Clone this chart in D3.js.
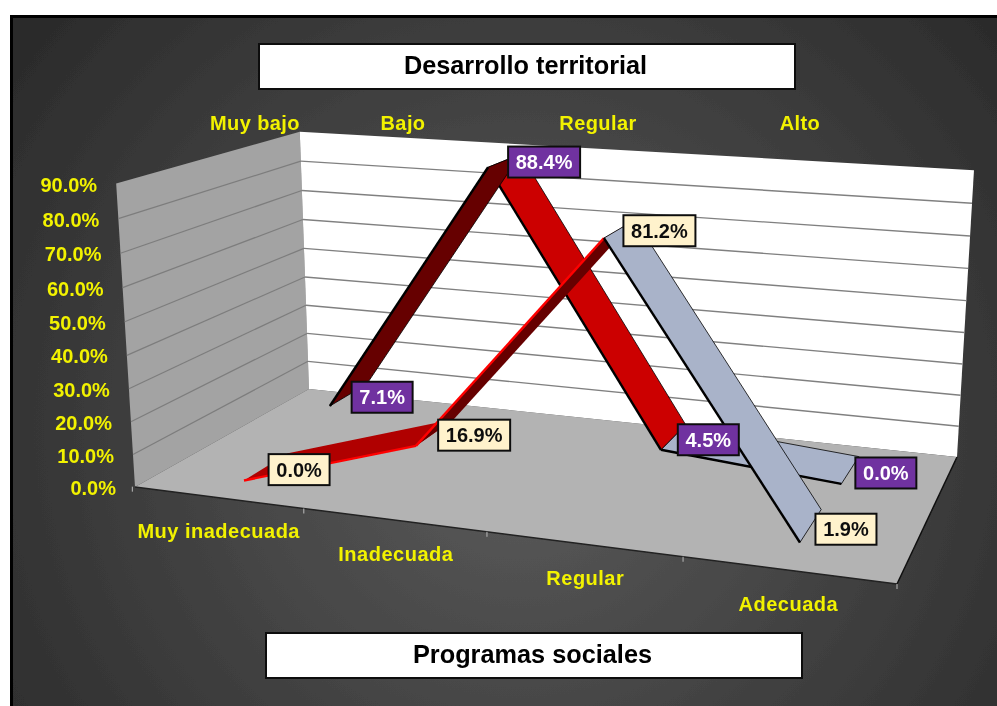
<!DOCTYPE html>
<html><head><meta charset="utf-8">
<script src="https://cdn.jsdelivr.net/npm/d3@7"></script>
<style>html,body{margin:0;padding:0;background:#fff}svg{display:block}text{font-family:"Liberation Sans",Arial,sans-serif;font-weight:bold}</style>
</head><body><div id="chart"></div>
<script>
// ---- data ----
const categories = ["Muy inadecuada","Inadecuada","Regular","Adecuada"];
const seriesNames = ["front","back"];
const frontValues = [0.0,16.9,81.2,1.9];
const backValues = [7.1,88.4,4.5,0.0];
const yTicks = [0,10,20,30,40,50,60,70,80,90];
const topLabels = ["Muy bajo","Bajo","Regular","Alto"];
const titleText = "Desarrollo territorial";
const xTitleText = "Programas sociales";
// ---- styles per ribbon segment ----
const backFills = ["#660000","#cc0000","#a9b3c9"];
const backEdges = ["#000","#000","#000"];
const frontFills = ["#b00000","#660000","#a9b3c9"];
const frontEdges = ["#ff0000","#ff0000","#000"];
// ---- layout: projected corners of the chart box ----
const W = 997, H = 706;
const floorFL=[135,487], floorFR=[897,584], floorBR=[957,457], floorBL=[309,389];
const topFL=[116,183], topBL=[300,134], topBR=[974,168];
const verticalVanish=[555,7250];
const topLabelX=[255,403,598,800];

function homography(p0,p1,p2,p3){
  const dx1=p1[0]-p2[0],dx2=p3[0]-p2[0],sx=p0[0]-p1[0]+p2[0]-p3[0];
  const dy1=p1[1]-p2[1],dy2=p3[1]-p2[1],sy=p0[1]-p1[1]+p2[1]-p3[1];
  const den=dx1*dy2-dx2*dy1;
  const g=(sx*dy2-dx2*sy)/den,h=(dx1*sy-sx*dy1)/den;
  return {a:p1[0]-p0[0]+g*p1[0],b:p3[0]-p0[0]+h*p3[0],c:p0[0],
          d:p1[1]-p0[1]+g*p1[1],e:p3[1]-p0[1]+h*p3[1],f:p0[1],g,h};
}
const Hm=homography(floorFL,floorFR,floorBR,floorBL);
function base(u,v){return [Hm.a*u+Hm.b*v+Hm.c,Hm.d*u+Hm.e*v+Hm.f,Hm.g*u+Hm.h*v+1];}
function kFor(u,v,top){const b=base(u,v);return (b[1]-top[1]*b[2])/(top[1]-verticalVanish[1]);}
const kH=d3.mean([kFor(0,0,topFL),kFor(0,1,topBL),kFor(1,1,topBR)]);
function project(u,t,v){
  const b=base(u,v),k=t*kH;
  const w=b[2]+k;
  return [(b[0]+k*verticalVanish[0])/w,(b[1]+k*verticalVanish[1])/w];
}
// ---- scales ----
const xScale=d3.scaleBand().domain(categories).range([-0.004,0.996]);
const yScale=d3.scaleLinear().domain([0,90]).range([0,1]);
const zScale=d3.scaleBand().domain(seriesNames).range([0,1.054]).paddingInner(0.515).paddingOuter(0.28);
const uc=c=>xScale(c)+xScale.bandwidth()/2;

const svg=d3.select("#chart").append("svg").attr("width",W).attr("height",H);
const defs=svg.append("defs");
const grad=defs.append("radialGradient").attr("id","bg").attr("gradientUnits","userSpaceOnUse")
  .attr("cx",520).attr("cy",430).attr("r",640);
grad.append("stop").attr("offset","0%").attr("stop-color","#5c5c5c");
grad.append("stop").attr("offset","100%").attr("stop-color","#2a2a2a");
const blur=defs.append("filter").attr("id","soft").attr("x","0").attr("y","0").attr("width","1").attr("height","1");
blur.append("feGaussianBlur").attr("stdDeviation",0.45);

const g=svg.append("g").attr("filter","url(#soft)");
g.append("rect").attr("width",W).attr("height",H).attr("fill","#fff");
g.append("rect").attr("x",11.5).attr("y",16.5).attr("width",W).attr("height",H).attr("fill","url(#bg)").attr("stroke","#000").attr("stroke-width",3);

const line=d3.line();
const poly=pts=>line(pts)+"Z";
// walls and floor
g.append("path").attr("d",poly([project(0,0,0),project(0,0,1),project(0,1,1),project(0,1,0)])).attr("fill","#a3a3a3");
g.append("path").attr("d",poly([project(0,0,1),project(1,0,1),project(1,1,1),project(0,1,1)])).attr("fill","#fff");
g.append("path").attr("d",poly([project(0,0,0),project(1,0,0),project(1,0,1),project(0,0,1)])).attr("fill","#b3b3b3");
// gridlines
yTicks.filter(t=>t>0&&t<90).forEach(t=>{
  const y=yScale(t);
  g.append("path").attr("d",line([project(0,y,0),project(0,y,1)])).attr("stroke","#7d7d7d").attr("stroke-width",1.2).attr("fill","none");
  g.append("path").attr("d",line([project(0,y,1),project(1,y,1)])).attr("stroke","#808080").attr("stroke-width",1.4).attr("fill","none");
});
// floor edges and ticks
g.append("path").attr("d",line([project(0,0,0),project(1,0,0)])).attr("stroke","#222").attr("stroke-width",1.5).attr("fill","none");
g.append("path").attr("d",line([project(1,0,0),project(1,0,1)])).attr("stroke","#111").attr("stroke-width",1.5).attr("fill","none");
[...categories.map(c=>xScale(c)),1].forEach(u=>{
  const p=project(u,0,0);
  g.append("line").attr("x1",p[0]).attr("y1",p[1]).attr("x2",p[0]).attr("y2",p[1]+5).attr("stroke","#bbb").attr("stroke-width",1);
});
// ribbons
function ribbon(name,values,fills,edges){
  const z0=zScale(name),z1=z0+zScale.bandwidth();
  d3.range(values.length-1).sort((a,b)=>name==="back"?b-a:a-b).forEach(i=>{
    const u0=uc(categories[i]),u1=uc(categories[i+1]);
    const t0=yScale(values[i]),t1=yScale(values[i+1]);
    const f0=project(u0,t0,z0),f1=project(u1,t1,z0),b1=project(u1,t1,z1),b0=project(u0,t0,z1);
    g.append("path").attr("d",poly([f0,f1,b1,b0])).attr("fill",fills[i]).attr("stroke","#000").attr("stroke-width",0.8).attr("stroke-opacity",edges[i]==="#000"?1:0);
    g.append("path").attr("d",line([f0,f1])).attr("stroke",edges[i]).attr("stroke-width",2.4).attr("fill","none");
  });
}
ribbon("back",backValues,backFills,backEdges);
ribbon("front",frontValues,frontFills,frontEdges);
// y axis labels
yTicks.forEach(t=>{
  const p=project(0,yScale(t),0);
  g.append("text").attr("x",p[0]-19).attr("y",p[1]+1).attr("dy","0.35em").attr("text-anchor","end")
    .attr("font-size",20).attr("fill","#f2f200").text(t.toFixed(1)+"%");
});
// category labels
categories.forEach(c=>{
  const p=project(uc(c),0,0);
  g.append("text").attr("x",p[0]+2).attr("y",p[1]+34).attr("dy","0.35em").attr("text-anchor","middle")
    .attr("font-size",20).attr("letter-spacing",0.5).attr("fill","#f2f200").text(c);
});
// top labels
topLabels.forEach((c,i)=>{
  g.append("text").attr("x",topLabelX[i]).attr("y",123).attr("dy","0.35em").attr("text-anchor","middle")
    .attr("font-size",20).attr("letter-spacing",0.4).attr("fill","#f2f200").text(c);
});
// data labels
function dataLabels(name,values,fill,color){
  const zc=zScale(name)+zScale.bandwidth()*0.39;
  values.forEach((val,i)=>{
    const p=project(uc(categories[i]),yScale(val),zc);
    const s=val.toFixed(1)+"%",bw=s.length===5?72:61,bh=31;
    g.append("rect").attr("x",p[0]+7).attr("y",p[1]-bh/2).attr("width",bw).attr("height",bh)
      .attr("fill",fill).attr("stroke","#111").attr("stroke-width",2);
    g.append("text").attr("x",p[0]+7+bw/2).attr("y",p[1]).attr("dy","0.35em").attr("text-anchor","middle")
      .attr("font-size",20).attr("fill",color).text(s);
  });
}
dataLabels("back",backValues,"#7030a0","#fff");
dataLabels("front",frontValues,"#fff2cc","#111");
// title boxes
function titleBox(x,y,w,h,t){
  g.append("rect").attr("x",x).attr("y",y).attr("width",w).attr("height",h).attr("fill","#fff").attr("stroke","#111").attr("stroke-width",2);
  g.append("text").attr("x",x+w/2-1.5).attr("y",y+h/2-1).attr("dy","0.35em").attr("text-anchor","middle")
    .attr("font-size",25.3).attr("fill","#000").text(t);
}
titleBox(259,44,536,45,titleText);
titleBox(266,633,536,45,xTitleText);
</script></body></html>
